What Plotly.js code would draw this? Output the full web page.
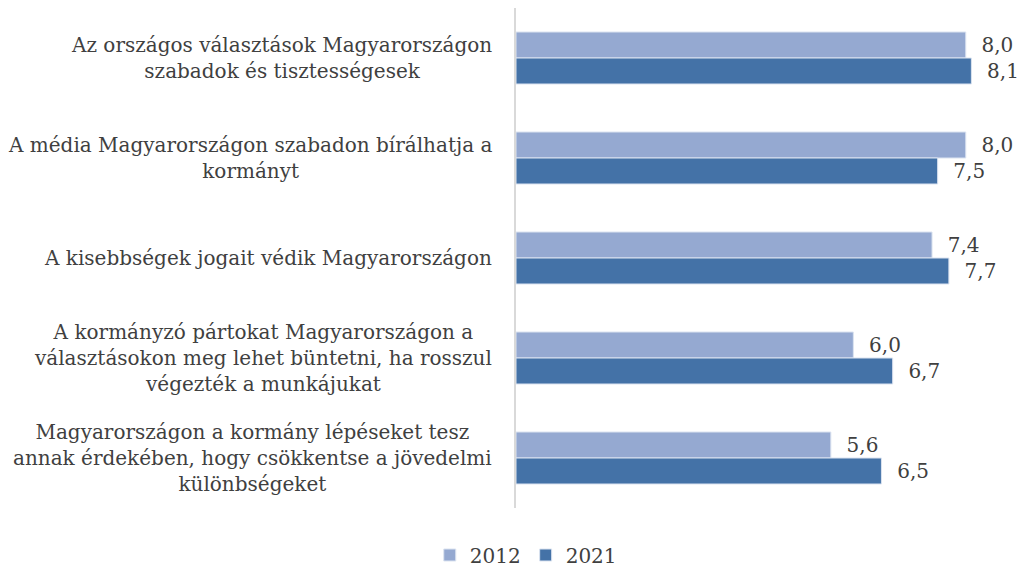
<!DOCTYPE html>
<html>
<head>
<meta charset="utf-8">
<script src="https://cdn.plot.ly/plotly-3.0.1.min.js"></script>
<style>html,body{margin:0;padding:0;background:#fff;}#chart{width:1018px;height:572px;}</style>
</head>
<body>
<div id="chart"></div>
<script>
var categories = [
  "Az országos választások Magyarországon<br>szabadok és tisztességesek",
  "A média Magyarországon szabadon bírálhatja a<br>kormányt",
  "A kisebbségek jogait védik Magyarországon",
  "A kormányzó pártokat Magyarországon a<br>választásokon meg lehet büntetni, ha rosszul<br>végezték a munkájukat",
  "Magyarországon a kormány lépéseket tesz<br>annak érdekében, hogy csökkentse a jövedelmi<br>különbségeket"
];
var catKeys = ["c1", "c2", "c3", "c4", "c5"];
var values2012 = [8.0, 8.0, 7.4, 6.0, 5.6];
var values2021 = [8.1, 7.5, 7.7, 6.7, 6.5];
var seriesNames = ["2012", "2021"];

var FONT = "DejaVu Serif";
var textColor = "#404040";

function mk(name, vals, color) {
  return {
    type: "bar", orientation: "h", name: name,
    y: catKeys, x: vals,
    marker: {color: color, line: {color: "#dbe3f0", width: 1}},
    text: vals.map(function(v){ return "\u00a0\u00a0" + v.toFixed(1).replace(".", ","); }),
    textposition: "outside", cliponaxis: false,
    textfont: {family: FONT, size: 20, color: textColor},
    hoverinfo: "none"
  };
}
var data = [mk(seriesNames[0], values2012, "#95a9d1"), mk(seriesNames[1], values2021, "#4472a7")];

var annotations = categories.map(function(c, i){
  return {xref: "paper", yref: "y", x: -0.045, y: catKeys[i], text: c,
    xanchor: "right", yanchor: "middle", align: "center", showarrow: false,
    font: {family: FONT, size: 20, color: textColor}};
});

var layout = {
  width: 1018, height: 572,
  margin: {l: 516, r: 14, t: 8, b: 64, autoexpand: false},
  paper_bgcolor: "#fff", plot_bgcolor: "#fff",
  barmode: "group", bargap: 0.48, bargroupgap: 0,
  separators: ", ",
  font: {family: FONT, color: textColor},
  xaxis: {range: [0, 8.68], visible: false, fixedrange: true},
  yaxis: {autorange: "reversed", showticklabels: false, ticks: "", showgrid: false,
          zeroline: false, showline: true, linecolor: "#d9d9d9", linewidth: 2},
  legend: {orientation: "h", x: 0.02, xanchor: "center", y: -0.094, yanchor: "middle",
           font: {family: FONT, size: 20, color: textColor}, itemwidth: 30, tracegroupgap: 0},
  annotations: annotations,
  showlegend: true
};
Plotly.newPlot("chart", data, layout, {displayModeBar: false, staticPlot: true});
</script>
</body>
</html>
